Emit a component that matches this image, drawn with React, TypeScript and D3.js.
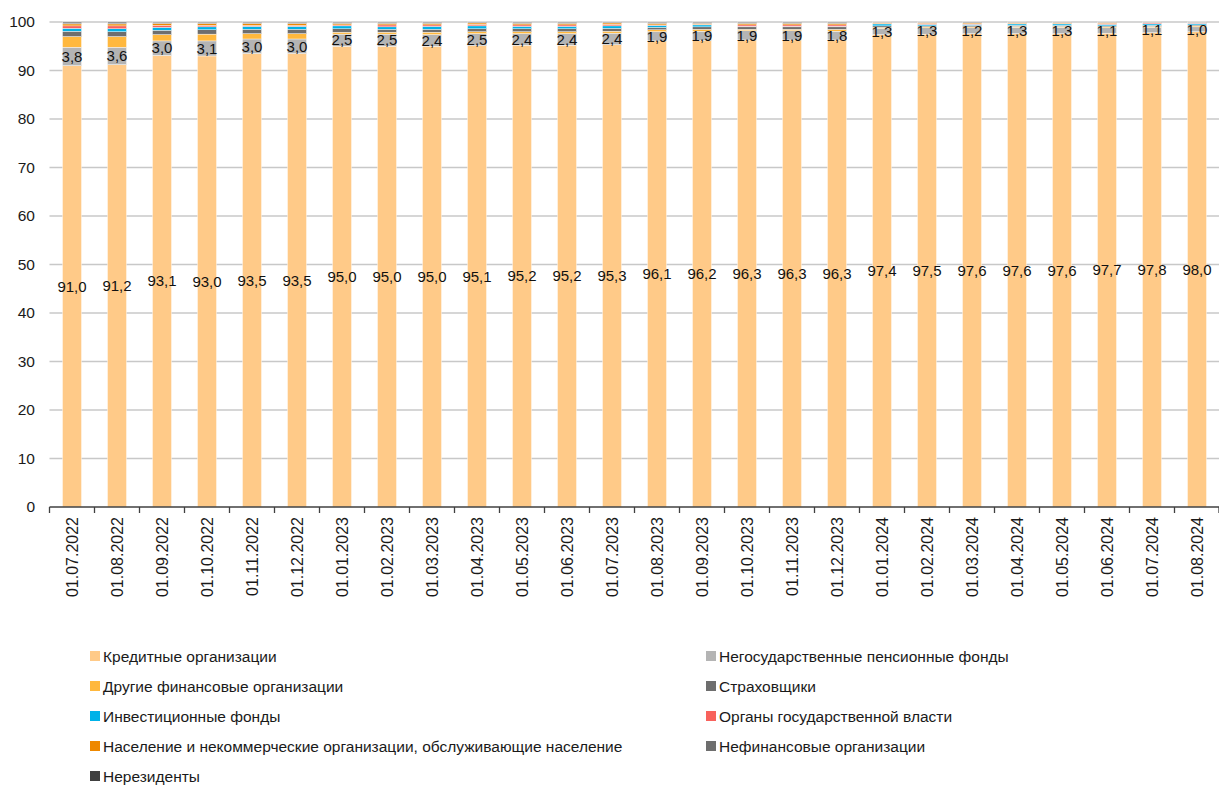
import React from "react";
import * as d3 from "d3";

const categories = [
  "01.07.2022","01.08.2022","01.09.2022","01.10.2022","01.11.2022","01.12.2022",
  "01.01.2023","01.02.2023","01.03.2023","01.04.2023","01.05.2023","01.06.2023",
  "01.07.2023","01.08.2023","01.09.2023","01.10.2023","01.11.2023","01.12.2023",
  "01.01.2024","01.02.2024","01.03.2024","01.04.2024","01.05.2024","01.06.2024",
  "01.07.2024","01.08.2024",
];

const credit = [91.0,91.2,93.1,93.0,93.5,93.5,95.0,95.0,95.0,95.1,95.2,95.2,95.3,96.1,96.2,96.3,96.3,96.3,97.4,97.5,97.6,97.6,97.6,97.7,97.8,98.0];
const pension = [3.8,3.6,3.0,3.1,3.0,3.0,2.5,2.5,2.4,2.5,2.4,2.4,2.4,1.9,1.9,1.9,1.9,1.8,1.3,1.3,1.2,1.3,1.3,1.1,1.1,1.0];
const otherFin = [2.2,2.2,1.3,1.4,1.1,1.1,0.4,0.4,0.5,0.4,0.4,0.4,0.4,0.4,0.4,0.3,0.3,0.4,0.2,0.2,0.2,0.2,0.2,0.2,0.2,0.2];
const insurers = [1.1,1.0,0.9,0.9,0.9,0.9,0.7,0.6,0.6,0.6,0.6,0.6,0.6,0.5,0.5,0.5,0.5,0.5,0.3,0.2,0.3,0.2,0.2,0.2,0.2,0.2];
const invest = [0.6,0.6,0.6,0.6,0.6,0.6,0.6,0.5,0.6,0.6,0.5,0.5,0.5,0.4,0.4,0.1,0.1,0.1,0.4,0.3,0.2,0.3,0.3,0.3,0.3,0.3];
const govt = [0.5,0.6,0.4,0.3,0.2,0.2,0.2,0.4,0.3,0.3,0.3,0.3,0.3,0.1,0.1,0.3,0.3,0.3,0.1,0.2,0.1,0.1,0.1,0.2,0.2,0.1];
const households = [0.4,0.4,0.4,0.4,0.4,0.4,0.3,0.3,0.3,0.3,0.3,0.3,0.3,0.3,0.2,0.3,0.3,0.3,0.2,0.2,0.2,0.2,0.2,0.2,0.1,0.1];
const nonFin = [0.2,0.2,0.2,0.2,0.2,0.2,0.2,0.2,0.2,0.1,0.2,0.2,0.1,0.2,0.2,0.2,0.2,0.2,0.05,0.05,0.1,0.05,0.05,0.05,0.05,0.05];
const nonRes = [0.2,0.2,0.1,0.1,0.1,0.1,0.1,0.1,0.1,0.1,0.1,0.1,0.1,0.1,0.1,0.1,0.1,0.1,0.05,0.05,0.1,0.05,0.05,0.05,0.05,0.05];

const yTicks = [0,10,20,30,40,50,60,70,80,90,100];

const seriesNames = [
  "Кредитные организации",
  "Негосударственные пенсионные фонды",
  "Другие финансовые организации",
  "Страховщики",
  "Инвестиционные фонды",
  "Органы государственной власти",
  "Население и некоммерческие организации, обслуживающие население",
  "Нефинансовые организации",
  "Нерезиденты",
];
const seriesValues = [credit, pension, otherFin, insurers, invest, govt, households, nonFin, nonRes];
const seriesColors = ["#FFCA88","#B4B4B4","#FFB83E","#6E6E6E","#00B2E8","#F8625C","#EE8800","#6E6E6E","#404040"];
const labeled = [true, true, false, false, false, false, false, false, false];

const W = 1219, H = 785;
const left = 49.5, right = 1219.5, top = 22, bottom = 507;
const font = "'Liberation Sans', Arial, sans-serif";

export default function App() {
  const x = d3.scaleBand().domain(categories).range([left, right]).paddingInner(0).paddingOuter(0);
  const y = d3.scaleLinear().domain([0, 100]).range([bottom, top]);
  const barW = 19;

  const rows = categories.map((c, i) => {
    const r: any = { cat: c };
    seriesNames.forEach((s, k) => (r[s] = seriesValues[k][i]));
    return r;
  });
  const stack = d3.stack().keys(seriesNames)(rows as any);

  return (
    <svg width={W} height={H} style={{ position: "absolute", left: 0, top: 0, background: "#fff" }} fontFamily={font}>
      {yTicks.map((t) => (
        <g key={t}>
          {t > 0 && <line x1={left} x2={right} y1={y(t)} y2={y(t)} stroke="#C8C8C8" strokeWidth={1.3} />}
          <text x={35} y={y(t)} dy="0.35em" textAnchor="end" fontSize={15.5} fill="#1a1a1a">{t}</text>
        </g>
      ))}
      {stack.map((layer, k) => (
        <g key={k} fill={seriesColors[k]}>
          {layer.map((d, i) => (
            <rect key={i} x={(x(categories[i]) as number) + x.bandwidth() / 2 - barW / 2}
              y={y(Math.min(d[1], 100))} width={barW}
              height={Math.max(0, y(d[0]) - y(Math.min(d[1], 100)))}
              stroke="#fff" strokeWidth={0.4} />
          ))}
        </g>
      ))}
      {stack.map((layer, k) => labeled[k] ? (
        <g key={"l" + k}>
          {layer.map((d, i) => (
            <text key={i} x={(x(categories[i]) as number) + x.bandwidth() / 2}
              y={y((d[0] + d[1]) / 2)} dy="0.35em" textAnchor="middle" fontSize={15} fill="#111">
              {seriesValues[k][i].toFixed(1).replace(".", ",")}
            </text>
          ))}
        </g>
      ) : null)}
      <line x1={left} x2={right} y1={bottom} y2={bottom} stroke="#404040" strokeWidth={1.3} />
      {categories.map((c, i) => (
        <line key={"t" + i} x1={(x(c) as number)} x2={(x(c) as number)} y1={bottom} y2={bottom + 6} stroke="#404040" strokeWidth={1.3} />
      ))}
      <line x1={right - 0.5} x2={right - 0.5} y1={bottom} y2={bottom + 6} stroke="#404040" strokeWidth={1.3} />
      {categories.map((c) => {
        const cx = (x(c) as number) + x.bandwidth() / 2;
        return (
          <text key={"x" + c} transform={`translate(${cx + 5.5},${517}) rotate(-90)`} textAnchor="end" fontSize={16} fill="#1a1a1a">{c}</text>
        );
      })}
      {seriesNames.map((s, k) => {
        const col = k % 2;
        const row = Math.floor(k / 2);
        const lx = col === 0 ? 90 : 706;
        const ly = 657 + row * 30;
        return (
          <g key={"lg" + k}>
            <rect x={lx} y={ly - 6} width={10} height={10} fill={seriesColors[k]} />
            <text x={lx + 13} y={ly} dy="0.35em" fontSize={15.5} fill="#1a1a1a">{s}</text>
          </g>
        );
      })}
    </svg>
  );
}
